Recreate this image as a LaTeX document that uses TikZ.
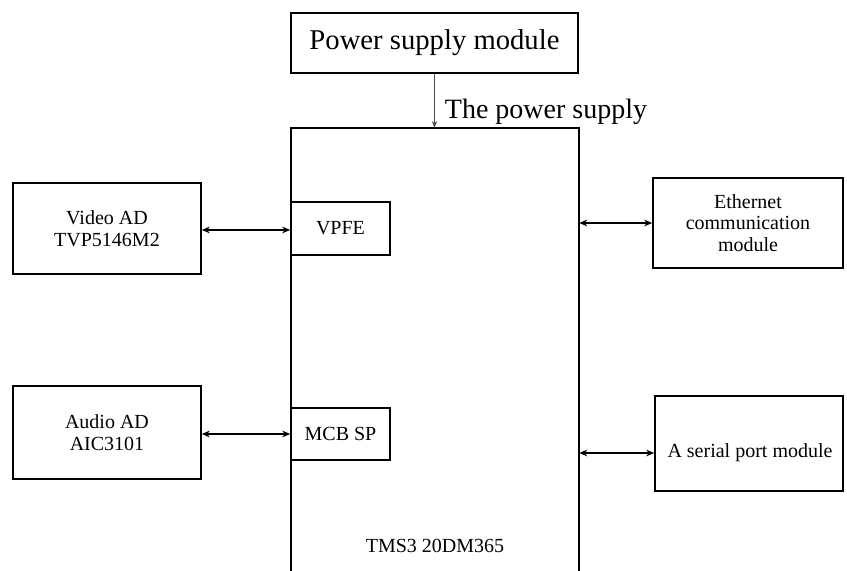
\documentclass[tikz,border=0pt]{standalone}
\usepackage{fontspec}
\setmainfont{Liberation Serif}
\usetikzlibrary{arrows.meta}
\begin{document}
\begin{tikzpicture}[x=0.75pt,y=-0.75pt,
  box/.style={draw, line width=1.2pt, inner sep=0pt, align=center, font=\fontsize{15}{16.2}\selectfont},
  small/.style={font=\fontsize{15}{16.2}\selectfont},
  link/.style={line width=1.3pt, {Stealth[length=6pt,width=5pt]}-{Stealth[length=6pt,width=5pt]}}]
\useasboundingbox (0,0) rectangle (847,571);
% power supply
\node[box, minimum width=215.25pt, minimum height=45pt, font=\fontsize{21.5}{25}\selectfont] (power) at (434.5,43) {Power supply module};
% main processor box (open at the bottom)
\node[minimum width=216pt, minimum height=336pt, inner sep=0pt] (main) at (435,352) {};
\draw[line width=1.2pt] (main.south west) -- (main.north west) -- (main.north east) -- (main.south east);
\node[small] (tms) at (435,546) {TMS3 20DM365};
% inner blocks
\node[box, minimum width=74.25pt, minimum height=39.75pt] (vpfe) at (340.5,228.5) {VPFE};
\node[box, minimum width=74.25pt, minimum height=39pt] (mcbsp) at (340.5,434) {MCB SP};
% left blocks
\node[box, minimum width=141pt, minimum height=68.25pt] (video) at (107,228.5) {Video AD\\TVP5146M2};
\node[box, minimum width=141pt, minimum height=69.75pt] (audio) at (107,432.5) {Audio AD\\AIC3101};
% right blocks
\node[box, minimum width=142.5pt, minimum height=67.5pt] (eth) at (748,223) {Ethernet\\communication\\module};
\node[box, minimum width=141pt, minimum height=71.25pt] (serial) at (749,443.5) {};
\node[small] (serialtxt) at (750,453) {A serial port module};
% connectors
\draw[line width=1pt, gray!60!black, -{Stealth[length=5pt,width=4pt]}] (power.south) -- (power.south |- main.north) node[pos=0.7, anchor=west, xshift=4pt, font=\fontsize{21}{25}\selectfont, text=black] (plabel) {The power supply};
\draw[link] ([yshift=-1.1pt]video.east |- vpfe.west) -- ([yshift=-1.1pt]vpfe.west);
\draw[link] (audio.east |- mcbsp.west) -- (mcbsp.west);
\draw[link] (main.east |- eth.west) -- (eth.west);
\draw[link] (main.east |- serialtxt) -- (serial.west |- serialtxt);
\end{tikzpicture}
\end{document}
